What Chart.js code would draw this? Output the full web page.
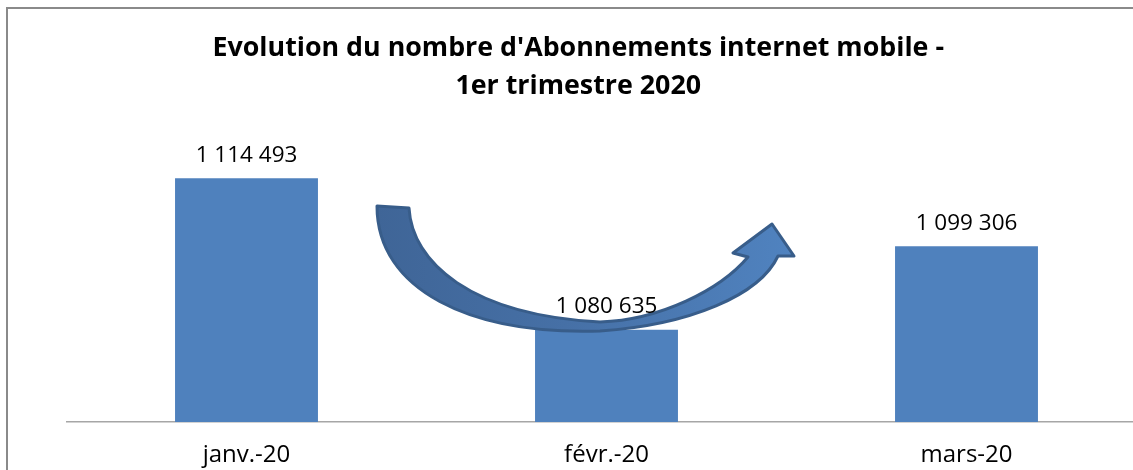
<!DOCTYPE html>
<html>
<head>
<meta charset="utf-8">
<script src="https://cdn.jsdelivr.net/npm/chart.js@4"></script>
<style>
  html, body { margin: 0; padding: 0; background: #fff; overflow: hidden; }
  #wrap { position: relative; width: 1133px; height: 470px; overflow: hidden; }
  #frame { position: absolute; left: 6px; top: 7px; width: 1200px; height: 500px;
           border-left: 2px solid #8a8a8a; border-top: 2px solid #8a8a8a; box-sizing: border-box; }
  #box { position: absolute; left: 0; top: 0; width: 1150px; height: 470px; }
</style>
</head>
<body>
<div id="wrap">
  <div id="box"><canvas id="c" width="1150" height="470"></canvas></div>
  <div id="frame"></div>
</div>
<script>
const categories = ['janv.-20', 'févr.-20', 'mars-20'];
const subscriptions = [1114493, 1080635, 1099306];
const titleLines = ["Evolution du nombre d'Abonnements internet mobile -", "1er trimestre 2020"];

function fmt(v) {
  return String(v).replace(/\B(?=(\d{3})+(?!\d))/g, ' ');
}

const arrowPlugin = {
  id: 'arrow',
  afterDatasetsDraw(chart) {
    const ctx = chart.ctx;
    const cx = chart.scales.x.getPixelForValue(1);
    const P = (dx, y) => [cx + dx, y];
    ctx.save();
    ctx.beginPath();
    let p = P(-229.5, 206); ctx.moveTo(p[0], p[1]);
    p = P(-197.5, 208); ctx.lineTo(p[0], p[1]);
    let c1 = P(-194.5, 262), c2 = P(-136.5, 315), e = P(-6.5, 322);
    ctx.bezierCurveTo(c1[0], c1[1], c2[0], c2[1], e[0], e[1]);
    c1 = P(53.5, 320); c2 = P(113.5, 290); e = P(141.5, 257);
    ctx.bezierCurveTo(c1[0], c1[1], c2[0], c2[1], e[0], e[1]);
    p = P(126.5, 253); ctx.lineTo(p[0], p[1]);
    p = P(165.5, 224); ctx.lineTo(p[0], p[1]);
    p = P(187.5, 256); ctx.lineTo(p[0], p[1]);
    p = P(171.5, 256); ctx.lineTo(p[0], p[1]);
    c1 = P(153.5, 295); c2 = P(83.5, 325); e = P(-6.5, 331);
    ctx.bezierCurveTo(c1[0], c1[1], c2[0], c2[1], e[0], e[1]);
    c1 = P(-136.5, 335); c2 = P(-229.5, 290); e = P(-229.5, 206);
    ctx.bezierCurveTo(c1[0], c1[1], c2[0], c2[1], e[0], e[1]);
    ctx.closePath();
    const g = ctx.createLinearGradient(cx - 230, 0, cx + 190, 0);
    g.addColorStop(0, '#3F6597');
    g.addColorStop(0.45, '#4670A6');
    g.addColorStop(1, '#5083C0');
    ctx.fillStyle = g;
    ctx.fill();
    ctx.lineJoin = 'round';
    ctx.lineWidth = 3;
    ctx.strokeStyle = '#385D8A';
    ctx.stroke();
    ctx.restore();
  }
};

const labelPlugin = {
  id: 'vlabels',
  afterDatasetsDraw(chart) {
    const ctx = chart.ctx;
    const meta = chart.getDatasetMeta(0);
    ctx.save();
    ctx.font = '22.5px "Open Sans"';
    ctx.fillStyle = '#000';
    ctx.textAlign = 'center';
    ctx.textBaseline = 'middle';
    meta.data.forEach((bar, i) => {
      ctx.fillText(fmt(chart.data.datasets[0].data[i]), bar.x, bar.y - 23);
    });
    ctx.restore();
  }
};

new Chart(document.getElementById('c'), {
  type: 'bar',
  data: {
    labels: categories,
    datasets: [{
      data: subscriptions,
      backgroundColor: '#4F81BD',
      borderWidth: 0,
      barPercentage: 0.397,
      categoryPercentage: 1
    }]
  },
  options: {
    responsive: false,
    animation: false,
    devicePixelRatio: 1,
    layout: { padding: { left: 10, right: 3.5, top: 0, bottom: 0 } },
    plugins: {
      legend: { display: false },
      tooltip: { enabled: false },
      title: {
        display: true,
        text: titleLines,
        color: '#000',
        font: { family: 'Open Sans', size: 26.8, weight: 'bold', lineHeight: 1.42 },
        padding: { top: 29.5, bottom: 48 }
      }
    },
    scales: {
      x: {
        offset: true,
        grid: { display: false, drawTicks: false },
        border: { display: true, color: '#A6A6A6', width: 1.5 },
        ticks: { color: '#000', font: { family: 'Open Sans', size: 24 }, padding: 19 },
        afterFit(s) { s.height = 48; }
      },
      y: {
        display: true,
        min: 1060000,
        max: 1120000,
        grid: { display: false, drawTicks: false },
        border: { display: false },
        ticks: { display: false },
        afterFit(s) { s.width = 56.5; }
      }
    }
  },
  plugins: [arrowPlugin, labelPlugin]
});
</script>
</body>
</html>
